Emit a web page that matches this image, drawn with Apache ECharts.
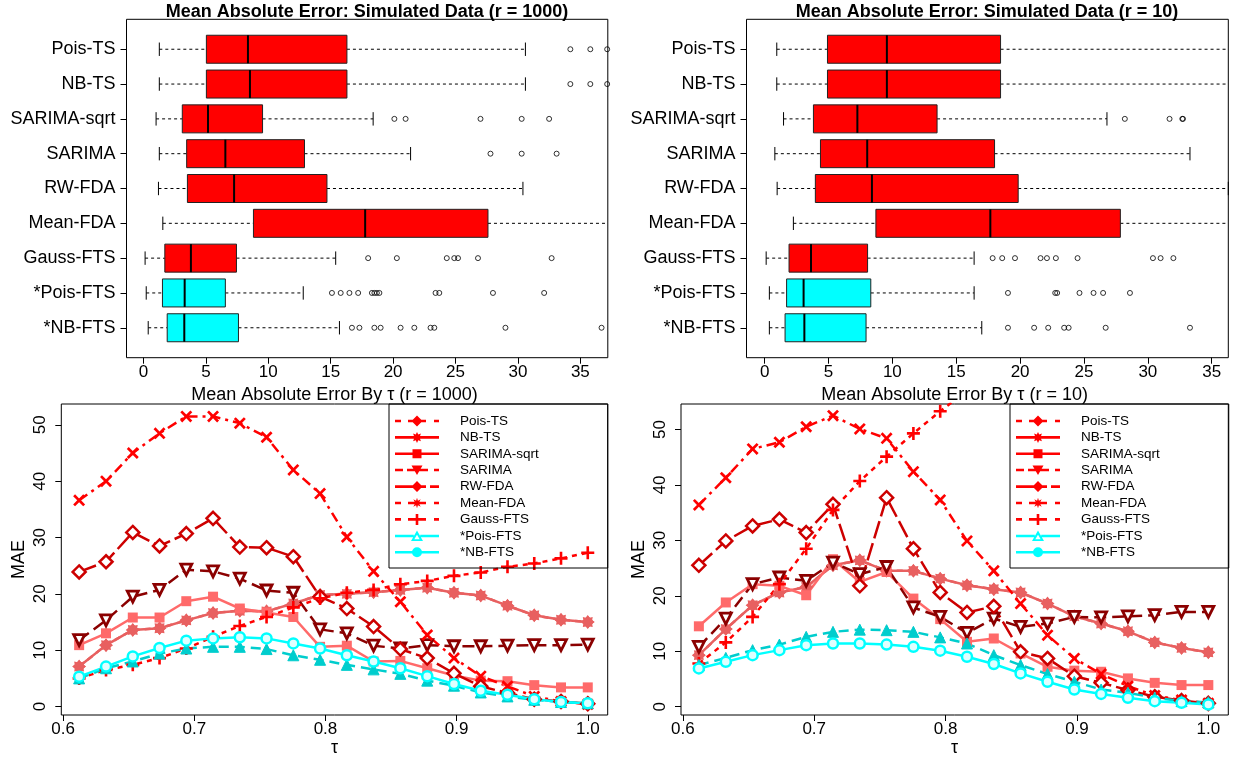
<!DOCTYPE html>
<html>
<head>
<meta charset="utf-8">
<title>Mean Absolute Error</title>
<script src="https://cdn.jsdelivr.net/npm/echarts@6.0.0/dist/echarts.min.js"></script>
<style>
html,body{margin:0;padding:0;background:#fff;}
#main{width:1236px;height:763px;}
</style>
</head>
<body>
<div id="main"></div>
<script>
//方法名称
var methods = ['Pois-TS','NB-TS','SARIMA-sqrt','SARIMA','RW-FDA','Mean-FDA','Gauss-FTS','*Pois-FTS','*NB-FTS'];
var boxFill = ['#ff0000','#ff0000','#ff0000','#ff0000','#ff0000','#ff0000','#ff0000','#00ffff','#00ffff'];

//箱线图 r = 1000
var lo1000  = [1.27, 1.27, 1.01, 1.27, 1.20, 1.55, 0.13, 0.22, 0.38];
var q1_1000 = [5.04, 5.04, 3.11, 3.46, 3.52, 8.81, 1.71, 1.52, 1.90];
var med1000 = [8.37, 8.53, 5.17, 6.56, 7.26, 17.76, 3.80, 3.30, 3.27];
var q3_1000 = [16.3, 16.3, 9.54, 12.9, 14.7, 27.6, 7.45, 6.56, 7.61];
var hi1000  = [30.6, 30.6, 18.4, 21.4, 30.4, 44.0, 15.4, 12.8, 15.7];
var out1000 = [
    [34.2, 35.8, 37.15],
    [34.2, 35.8, 37.15],
    [20.1, 21.0, 27.0, 30.3, 32.5],
    [27.8, 30.3, 33.1],
    [],
    [],
    [18.0, 20.3, 24.3, 24.9, 25.2, 26.8, 32.7],
    [15.1, 15.8, 16.5, 17.2, 18.3, 18.5, 18.7, 18.9, 23.4, 23.7, 28.0, 32.1],
    [16.7, 17.3, 18.5, 19.0, 20.6, 21.7, 23.0, 23.3, 29.0, 36.7]
];

//箱线图 r = 10
var lo10  = [0.95, 0.95, 1.48, 0.80, 0.98, 2.25, 0.12, 0.37, 0.37];
var q1_10 = [4.92, 4.92, 3.82, 4.37, 3.97, 8.71, 1.91, 1.72, 1.60];
var med10 = [9.57, 9.57, 7.26, 8.03, 8.40, 17.67, 3.63, 3.05, 3.11];
var q3_10 = [18.47, 18.47, 13.5, 18.0, 19.85, 27.85, 8.06, 8.31, 7.94];
var hi10  = [40.0, 40.0, 26.8, 33.3, 36.3, 42.0, 16.4, 16.4, 17.0];
var out10 = [
    [],
    [],
    [28.2, 31.7, 32.7, 32.75],
    [],
    [],
    [],
    [17.85, 18.6, 19.6, 21.6, 22.1, 22.8, 24.5, 30.4, 31.0, 32.0],
    [19.05, 22.75, 22.9, 24.65, 25.75, 26.5, 28.6],
    [19.05, 21.1, 22.2, 23.45, 23.8, 26.7, 33.3]
];

//tau
var tau = [0.6122, 0.6327, 0.6531, 0.6735, 0.6939, 0.7143, 0.7347, 0.7551, 0.7755, 0.7959,
           0.8163, 0.8367, 0.8571, 0.8776, 0.8980, 0.9184, 0.9388, 0.9592, 0.9796, 1.0];

//MAE r = 1000
var poisTS1000  = [7.1, 10.9, 13.6, 13.9, 15.3, 16.6, 17.0, 16.9, 18.3, 19.8, 20.0, 20.3, 20.7, 21.1, 20.2, 19.7, 17.9, 16.2, 15.4, 15.0];
var nbTS1000    = [7.1, 10.9, 13.6, 13.9, 15.3, 16.6, 17.0, 16.9, 18.3, 19.8, 20.0, 20.3, 20.7, 21.1, 20.2, 19.7, 17.9, 16.2, 15.4, 15.0];
var sqrt1000    = [10.9, 13.0, 15.8, 15.8, 18.7, 19.5, 17.4, 16.7, 15.9, 10.6, 10.8, 8.0, 8.1, 6.8, 5.5, 4.6, 4.5, 3.8, 3.4, 3.4];
var sarima1000  = [11.8, 15.3, 19.5, 20.7, 24.3, 24.0, 22.7, 20.6, 20.2, 13.7, 13.0, 10.8, 10.3, 10.9, 10.7, 10.7, 10.8, 10.9, 10.9, 11.0];
var rw1000      = [23.9, 25.7, 30.9, 28.5, 30.7, 33.4, 28.3, 28.2, 26.6, 19.5, 17.4, 14.2, 10.2, 8.6, 5.9, 3.6, 2.4, 1.3, 0.9, 0.5];
var mean1000    = [36.6, 40.0, 45.0, 48.5, 51.5, 51.5, 50.3, 47.8, 42.0, 37.8, 30.1, 24.0, 18.6, 12.7, 8.6, 5.4, 3.6, 1.8, 0.9, 0.4];
var gauss1000   = [5.0, 6.5, 7.4, 8.6, 10.3, 12.4, 14.3, 15.9, 17.6, 19.2, 20.2, 20.7, 21.7, 22.3, 23.2, 23.8, 24.8, 25.4, 26.3, 27.3];
var poisFTS1000 = [5.0, 6.8, 8.0, 9.4, 10.3, 10.6, 10.6, 10.2, 9.1, 8.3, 7.4, 6.6, 5.8, 4.6, 3.7, 2.5, 1.8, 1.2, 0.8, 0.6];
var nbFTS1000   = [5.3, 7.1, 8.9, 10.4, 11.7, 12.1, 12.3, 12.1, 11.2, 10.3, 9.1, 8.0, 6.8, 5.4, 4.0, 2.8, 2.1, 1.3, 0.8, 0.6];

//MAE r = 10
var poisTS10  = [9.3, 14.0, 18.3, 20.6, 21.6, 25.5, 26.4, 24.5, 24.5, 23.1, 21.9, 21.2, 20.6, 18.6, 16.3, 15.0, 13.6, 11.6, 10.6, 9.8];
var nbTS10    = [9.3, 14.0, 18.3, 20.6, 21.6, 25.5, 26.4, 24.5, 24.5, 23.1, 21.9, 21.2, 20.6, 18.6, 16.3, 15.0, 13.6, 11.6, 10.6, 9.8];
var sqrt10    = [14.5, 18.8, 22.1, 21.8, 20.1, 26.6, 22.5, 24.3, 19.5, 15.8, 11.7, 12.3, 9.6, 7.2, 6.5, 6.3, 5.1, 4.3, 3.9, 3.9];
var sarima10  = [10.8, 15.9, 22.1, 23.3, 22.7, 26.0, 23.9, 25.2, 17.9, 16.2, 13.3, 15.9, 14.4, 15.0, 16.2, 16.1, 16.3, 16.5, 17.1, 17.1];
var rw10      = [25.5, 29.9, 32.6, 33.8, 31.4, 36.5, 21.8, 37.7, 28.5, 20.6, 17.0, 18.1, 9.9, 8.7, 5.5, 4.3, 3.0, 1.8, 1.1, 0.6];
var mean10    = [36.4, 41.3, 46.5, 47.7, 50.5, 52.5, 50.1, 48.4, 42.4, 37.3, 29.9, 24.5, 18.6, 12.9, 8.7, 5.9, 3.7, 2.0, 1.2, 0.6];
var gauss10   = [7.8, 11.6, 16.2, 22.1, 28.5, 35.5, 40.7, 45.1, 49.3, 53.3, 57.0, 59.0, 61.0, 62.0, 63.0, 64.0, 65.0, 66.0, 67.0, 68.0];
var poisFTS10 = [7.5, 8.8, 10.2, 11.2, 12.6, 13.5, 13.9, 13.8, 13.5, 12.5, 11.4, 9.3, 7.5, 5.9, 4.5, 3.1, 2.5, 1.6, 1.0, 0.8];
var nbFTS10   = [6.9, 8.1, 9.3, 10.2, 11.1, 11.4, 11.4, 11.2, 10.8, 10.1, 9.0, 7.7, 6.0, 4.5, 3.1, 2.3, 1.6, 1.0, 0.7, 0.4];

//刻度
var boxTicks = [0, 5, 10, 15, 20, 25, 30, 35];
var catTicks = [1, 2, 3, 4, 5, 6, 7, 8, 9];
var tauTicks = [0.6, 0.7, 0.8, 0.9, 1.0];
var maeTicks = [0, 10, 20, 30, 40, 50];

var FONT = 'Liberation Sans, Arial, Helvetica, sans-serif';

//星形路径
function starPath(cx, cy, ro, ri){
    var s = '';
    for (var k = 0; k < 16; k++) {
        var a = Math.PI * k / 8;
        var r = k % 2 ? ri : ro;
        s += (k ? 'L' : 'M') + (cx + r * Math.cos(a)).toFixed(2) + ',' + (cy + r * Math.sin(a)).toFixed(2);
    }
    return s + 'Z';
}
function seg(a, b){ return 'M' + a + ',5.7H' + b + 'V8.3H' + a + 'Z'; }

var SYM_X = 'path://M0,1.6L1.6,0L5,3.4L8.4,0L10,1.6L6.6,5L10,8.4L8.4,10L5,6.6L1.6,10L0,8.4L3.4,5Z';
var SYM_PLUS = 'path://M4,0H6V4H10V6H6V10H4V6H0V4H4Z';
var SYM_STAR = 'path://' + starPath(5, 5, 5, 3.4);

//图例图标 (线型 + 点)
var lgDiamond = 'M22,1.5L27.5,7L22,12.5L16.5,7Z';
var lgSquare = 'M17.5,2.5H26.5V11.5H17.5Z';
var lgDown = 'M16.5,2.5H27.5L22,12Z';
var lgPlus = 'M20.7,1.5H23.3V5.7H27.5V8.3H23.3V12.5H20.7V8.3H16.5V5.7H20.7Z';
var lgOpenTri = 'M16,12L22,1.5L28,12ZM19.3,10.2L24.7,10.2L22,5.6Z';
var lgCircle = 'M17,7A5,5 0 1,1 27,7A5,5 0 1,1 17,7Z';
var dotted = seg(0, 6) + seg(13, 31) + seg(39, 44);
var legendIcons = [
    dotted + lgDiamond,
    seg(0, 44) + starPath(22, 7, 5.5, 3.2),
    seg(0, 44) + lgSquare,
    seg(0, 8) + seg(12, 33) + seg(39, 44) + lgDown,
    seg(0, 31) + seg(35, 44) + lgDiamond,
    dotted + starPath(22, 7, 5.2, 2.4),
    dotted + lgPlus,
    seg(0, 18.8) + seg(25.2, 44) + lgOpenTri,
    seg(0, 44) + lgCircle
];

//线条样式
var lineStyles = [
    {color:'#e86060', fill:'#e86060', symbol:'diamond', size:13, dash:[6,5]},
    {color:'#e86060', fill:'#e86060', symbol:SYM_STAR, size:14, dash:'solid'},
    {color:'#ff6a6a', fill:'#ff6a6a', symbol:'rect', size:10, dash:'solid'},
    {color:'#8b0000', fill:'#ffffff', stroke:'#8b0000', bw:2.8, symbol:'triangle', rotate:180, size:11, dash:[12,6]},
    {color:'#cd0000', fill:'#ffffff', stroke:'#cd0000', bw:2.5, symbol:'diamond', size:13, dash:[18,5]},
    {color:'#ff0000', fill:'#ff0000', symbol:SYM_X, size:12, dash:[10,5,3,5]},
    {color:'#ff0000', fill:'#ff0000', symbol:SYM_PLUS, size:13, dash:[5,5]},
    {color:'#00cdcd', fill:'#00cdcd', stroke:'#00cdcd', bw:1, symbol:'triangle', size:11, dash:[10,6]},
    {color:'#00ffff', fill:'#e0ffff', stroke:'#00ffff', bw:2.5, symbol:'circle', size:10, dash:'solid'}
];

function boxData(lo, q1, med, q3, hi){
    var d = [];
    for (var i = 0; i < methods.length; i++) {
        d.push([i + 1, lo[i], q1[i], med[i], q3[i], hi[i]]);
    }
    return d;
}
function outlierData(out){
    var d = [];
    for (var i = 0; i < out.length; i++) {
        for (var j = 0; j < out[i].length; j++) d.push([out[i][j], i + 1]);
    }
    return d;
}

//箱子: 虚线须 + 实线端 + 箱体 + 中位线
function renderBox(params, api){
    var cs = params.coordSys;
    var right = cs.x + cs.width;
    var pos = api.value(0);
    var pLo = api.coord([api.value(1), pos]);
    var pQ1 = api.coord([api.value(2), pos]);
    var pMed = api.coord([api.value(3), pos]);
    var pQ3 = api.coord([api.value(4), pos]);
    var pHi = api.coord([api.value(5), pos]);
    var y = pMed[1], h = 14, cap = 6.7;
    var dash = {stroke:'#000', lineWidth:1, lineDash:[3,3]};
    var solid = {stroke:'#000', lineWidth:1};
    var kids = [
        {type:'line', shape:{x1:pLo[0], y1:y, x2:pQ1[0], y2:y}, style:dash},
        {type:'line', shape:{x1:pQ3[0], y1:y, x2:Math.min(pHi[0], right), y2:y}, style:dash},
        {type:'line', shape:{x1:pLo[0], y1:y - cap, x2:pLo[0], y2:y + cap}, style:solid},
        {type:'rect', shape:{x:pQ1[0], y:y - h, width:pQ3[0] - pQ1[0], height:2 * h},
            style:{fill:boxFill[params.dataIndex], stroke:'#222', lineWidth:1}},
        {type:'line', shape:{x1:pMed[0], y1:y - h, x2:pMed[0], y2:y + h}, style:{stroke:'#000', lineWidth:2}}
    ];
    if (pHi[0] <= right + 0.5) {
        kids.push({type:'line', shape:{x1:pHi[0], y1:y - cap, x2:pHi[0], y2:y + cap}, style:solid});
    }
    return {type:'group', children:kids};
}

function boxSeries(idx, data){
    return {type:'custom', xAxisIndex:idx, yAxisIndex:idx, renderItem:renderBox, data:data,
            encode:{x:[1,2,3,4,5], y:0}, silent:true, animation:false};
}
function outlierSeries(idx, data){
    return {type:'scatter', xAxisIndex:idx, yAxisIndex:idx, data:data, symbol:'circle', symbolSize:5,
            itemStyle:{color:'transparent', borderColor:'#000', borderWidth:1}, silent:true, animation:false};
}
function lineSeries(idx, name, vals, st){
    var d = [];
    for (var i = 0; i < tau.length; i++) d.push([tau[i], vals[i]]);
    return {
        name:name, type:'line', xAxisIndex:idx, yAxisIndex:idx, data:d,
        symbol:st.symbol, symbolSize:st.size, symbolRotate:st.rotate || 0, showAllSymbol:true,
        lineStyle:{color:st.color, width:2.5, type:st.dash},
        itemStyle:{color:st.fill, borderColor:st.stroke || st.fill, borderWidth:st.bw || 0},
        silent:true, animation:false
    };
}

function boxXAxis(idx, min, max){
    return {
        type:'value', gridIndex:idx, min:min, max:max,
        axisLine:{show:false, onZero:false}, splitLine:{show:false},
        axisTick:{show:true, length:6, customValues:boxTicks, lineStyle:{color:'#000'}},
        axisLabel:{customValues:boxTicks, fontFamily:FONT, fontSize:17, color:'#000', margin:6}
    };
}
function boxYAxis(idx){
    return {
        type:'value', gridIndex:idx, min:0.14, max:9.86, inverse:true,
        axisLine:{show:false, onZero:false}, splitLine:{show:false},
        axisTick:{show:true, length:6, customValues:catTicks, lineStyle:{color:'#000'}},
        axisLabel:{customValues:catTicks, fontFamily:FONT, fontSize:18, color:'#000', margin:11,
            formatter:function(v){ return methods[Math.round(v) - 1]; }}
    };
}
function tauXAxis(idx){
    return {
        type:'value', gridIndex:idx, min:0.5986, max:1.0152,
        name:'τ', nameLocation:'middle', nameGap:21,
        nameTextStyle:{fontFamily:FONT, fontSize:18, color:'#000'},
        axisLine:{show:false, onZero:false}, splitLine:{show:false},
        axisTick:{show:true, length:6, customValues:tauTicks, lineStyle:{color:'#000'}},
        axisLabel:{customValues:tauTicks, fontFamily:FONT, fontSize:17, color:'#000', margin:6,
            formatter:function(v){ return v.toFixed(1); }}
    };
}
function maeYAxis(idx, min, max){
    return {
        type:'value', gridIndex:idx, min:min, max:max,
        name:'MAE', nameLocation:'middle', nameGap:33, nameRotate:90,
        nameTextStyle:{fontFamily:FONT, fontSize:18, color:'#000'},
        axisLine:{show:false, onZero:false}, splitLine:{show:false},
        axisTick:{show:true, length:6, customValues:maeTicks, lineStyle:{color:'#000'}},
        axisLabel:{customValues:maeTicks, fontFamily:FONT, fontSize:17, color:'#000', margin:12, rotate:90}
    };
}
function makeLegend(left){
    var items = [];
    for (var i = 0; i < methods.length; i++) {
        items.push({name:methods[i], icon:'path://' + legendIcons[i],
            itemStyle:{color:i < 7 ? '#ff0000' : '#00ffff', borderWidth:0}});
    }
    return {
        orient:'vertical', left:left, top:404, itemWidth:44, itemHeight:14, itemGap:2.4,
        padding:[10, 69, 8.8, 6], borderColor:'#000', borderWidth:1, selectedMode:false,
        textStyle:{fontFamily:FONT, fontSize:13.5, color:'#000', padding:[0, 0, 0, 16]},
        data:items
    };
}

var series = [
    boxSeries(0, boxData(lo1000, q1_1000, med1000, q3_1000, hi1000)),
    outlierSeries(0, outlierData(out1000)),
    boxSeries(1, boxData(lo10, q1_10, med10, q3_10, hi10)),
    outlierSeries(1, outlierData(out10))
];
var set1000 = [poisTS1000, nbTS1000, sqrt1000, sarima1000, rw1000, mean1000, gauss1000, poisFTS1000, nbFTS1000];
var set10 = [poisTS10, nbTS10, sqrt10, sarima10, rw10, mean10, gauss10, poisFTS10, nbFTS10];
for (var k = 0; k < methods.length; k++) series.push(lineSeries(2, methods[k], set1000[k], lineStyles[k]));
for (var k = 0; k < methods.length; k++) series.push(lineSeries(3, methods[k], set10[k], lineStyles[k]));

var boldTitle = {fontFamily:FONT, fontSize:18, fontWeight:'bold', color:'#000'};
var plainTitle = {fontFamily:FONT, fontSize:18, fontWeight:'normal', color:'#000'};
var option = {
    backgroundColor:'#fff',
    title:[
        {text:'Mean Absolute Error: Simulated Data (r = 1000)', left:367, top:3, textAlign:'center', padding:0, textStyle:boldTitle},
        {text:'Mean Absolute Error: Simulated Data (r = 10)', left:987, top:3, textAlign:'center', padding:0, textStyle:boldTitle},
        {text:'Mean Absolute Error By τ (r = 1000)', left:334.5, top:386, textAlign:'center', padding:0, textStyle:plainTitle},
        {text:'Mean Absolute Error By τ (r = 10)', left:954.6, top:386, textAlign:'center', padding:0, textStyle:plainTitle}
    ],
    grid:[
        {left:126.5, top:19.3, width:481.3, height:338.4, show:true, borderColor:'#000', borderWidth:1},
        {left:746.5, top:19.3, width:481.8, height:338.4, show:true, borderColor:'#000', borderWidth:1},
        {left:61.3, top:404, width:546.4, height:311, show:true, borderColor:'#000', borderWidth:1},
        {left:681, top:404, width:547.3, height:311, show:true, borderColor:'#000', borderWidth:1}
    ],
    xAxis:[boxXAxis(0, -1.36, 37.2), boxXAxis(1, -1.42, 36.3), tauXAxis(2), tauXAxis(3)],
    yAxis:[boxYAxis(0), boxYAxis(1), maeYAxis(2, -1.5, 53.7), maeYAxis(3, -1.5, 54.6)],
    legend:[makeLegend(389), makeLegend(1010)],
    series:series
};

var chart = echarts.init(document.getElementById('main'));
chart.setOption(option);
</script>
</body>
</html>
